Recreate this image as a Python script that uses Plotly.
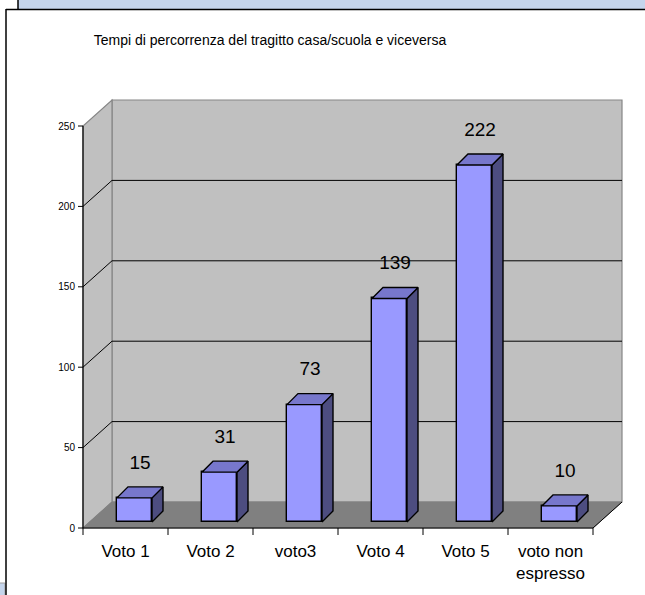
import plotly.graph_objects as go

# ---- data ----
categories = ["Voto 1", "Voto 2", "voto3", "Voto 4", "Voto 5", "voto non<br>espresso"]
values = [15, 31, 73, 139, 222, 10]
y_ticks = [0, 50, 100, 150, 200, 250]
title_text = "Tempi di percorrenza del tragitto casa/scuola e viceversa"

# ---- geometry / style constants (pixels -> data units) ----
W, H = 645, 595
PX_CAT = 85.0          # pixels per category
PX_VAL = 1.608         # pixels per value unit
AX_X = 83              # pixel of x = -0.5
AX_Y = 528             # pixel of y = 0
PL, PR, PT, PB = 76, 640, 80, 540   # plot area pixel box

def dx(px):
    return px / PX_CAT

def dy(px):
    return px / PX_VAL

n = len(categories)
x_left = -0.5
x_right = n - 0.5
y_top = max(y_ticks)
WALL_DX, WALL_DY = dx(29), dy(26)
BAR_OFF_X, BAR_OFF_Y = dx(9), dy(6)
BAR_W = dx(35)
BAR_DX, BAR_DY = dx(11), dy(11)
LABEL_GAP = dy(23)

FONT = "Liberation Sans, Arial, sans-serif"
WALL = "#C0C0C0"
FLOOR = "#808080"
EDGE = "#868686"
FRONT = "#9999FF"
TOP = "#7777CC"
SIDE = "#4D4D80"

fig = go.Figure()
shapes = []

def path_of(xs, ys, close=True):
    p = "M " + " L ".join(f"{x},{y}" for x, y in zip(xs, ys))
    return p + (" Z" if close else "")

def shape_poly(xs, ys, fill, line_color, line_width=1):
    shapes.append(dict(type="path", xref="x", yref="y", path=path_of(xs, ys),
                       fillcolor=fill, line=dict(color=line_color, width=line_width),
                       layer="below"))

def shape_line(xs, ys, color, width=1):
    shapes.append(dict(type="path", xref="x", yref="y", path=path_of(xs, ys, close=False),
                       line=dict(color=color, width=width), layer="below"))

def poly(xs, ys, fill, line_color, line_width=1):
    fig.add_trace(go.Scatter(
        x=list(xs) + [xs[0]], y=list(ys) + [ys[0]], mode="lines", fill="toself",
        fillcolor=fill, line=dict(color=line_color, width=line_width),
        hoverinfo="skip", showlegend=False))

def seg(xs, ys, color, width=1):
    fig.add_trace(go.Scatter(x=xs, y=ys, mode="lines",
                             line=dict(color=color, width=width),
                             hoverinfo="skip", showlegend=False))

# back wall
shape_poly([x_left + WALL_DX, x_right + WALL_DX, x_right + WALL_DX, x_left + WALL_DX],
           [WALL_DY, WALL_DY, y_top + WALL_DY, y_top + WALL_DY], WALL, EDGE, 1.2)
# side wall
shape_poly([x_left, x_left + WALL_DX, x_left + WALL_DX, x_left],
           [0, WALL_DY, y_top + WALL_DY, y_top], WALL, EDGE, 1.2)
# floor
shape_poly([x_left, x_right, x_right + WALL_DX, x_left + WALL_DX],
           [0, 0, WALL_DY, WALL_DY], FLOOR, FLOOR, 1)
# gridlines (side wall diagonal + back wall)
for t in y_ticks[1:-1]:
    shape_line([x_left, x_left + WALL_DX, x_right + WALL_DX],
               [t, t + WALL_DY, t + WALL_DY], "#000000", 1)
# floor right edge
shape_line([x_right, x_right + WALL_DX], [0, WALL_DY], "#000000", 1)

# axis lines
seg([x_left, x_right], [0, 0], "#000000", 1.2)
seg([x_left, x_left], [0, y_top], "#000000", 1.2)
# x ticks at category boundaries
tx, ty = [], []
for i in range(n + 1):
    b = x_left + i
    tx += [b, b, None]
    ty += [0, -dy(7), None]
seg(tx, ty, "#000000", 1)
# y ticks
yx, yy = [], []
for t in y_ticks:
    yx += [x_left - dx(5), x_left, None]
    yy += [t, t, None]
seg(yx, yy, "#000000", 1)

# bars: front faces
base = BAR_OFF_Y
fig.add_trace(go.Bar(
    x=[i + BAR_OFF_X for i in range(n)], y=values, base=[base] * n, width=BAR_W,
    marker=dict(color=FRONT, line=dict(color="#000000", width=1.4)),
    hoverinfo="skip", showlegend=False))

# bars: side and top faces
for i, v in enumerate(values):
    xc = i + BAR_OFF_X
    xl, xr = xc - BAR_W / 2, xc + BAR_W / 2
    top = base + v
    poly([xr, xr, xr + BAR_DX, xr + BAR_DX], [base, top, top + BAR_DY, base + BAR_DY], SIDE, "#000000", 1.4)
    poly([xl, xr, xr + BAR_DX, xl + BAR_DX], [top, top, top + BAR_DY, top + BAR_DY], TOP, "#000000", 1.4)

# value labels
fig.add_trace(go.Scatter(
    x=[i + BAR_OFF_X + BAR_DX / 2 for i in range(n)],
    y=[base + v + BAR_DY + LABEL_GAP for v in values],
    mode="text", text=[str(v) for v in values], textposition="middle center",
    textfont=dict(family=FONT, size=19, color="#000000"),
    hoverinfo="skip", showlegend=False))

# frame shapes (paper coords from pixels)
def pxp(px):
    return (px - PL) / (PR - PL)

def pyp(py):
    return (PB - py) / (PB - PT)

shapes += [
    dict(type="rect", xref="paper", yref="paper", x0=pxp(18), x1=pxp(660), y0=pyp(9), y1=pyp(-10),
         fillcolor="#C5D5EC", line=dict(width=0), layer="below"),
    dict(type="line", xref="paper", yref="paper", x0=pxp(18), x1=pxp(18), y0=pyp(9), y1=pyp(-10),
         line=dict(color="#000000", width=1.5)),
    dict(type="line", xref="paper", yref="paper", x0=pxp(6), x1=pxp(660), y0=pyp(9.5), y1=pyp(9.5),
         line=dict(color="#000000", width=1.5)),
    dict(type="line", xref="paper", yref="paper", x0=pxp(6), x1=pxp(6), y0=pyp(9), y1=pyp(610),
         line=dict(color="#000000", width=1.5)),
    dict(type="rect", xref="paper", yref="paper", x0=pxp(-10), x1=pxp(5), y0=pyp(583), y1=pyp(610),
         fillcolor="#C5D5EC", line=dict(color="#A0A0A0", width=1), layer="below"),
]

fig.update_layout(
    width=W, height=H, autosize=False,
    margin=dict(l=PL, r=W - PR, t=PT, b=H - PB, pad=0),
    paper_bgcolor="#FFFFFF", plot_bgcolor="rgba(0,0,0,0)",
    title=dict(text=title_text, x=270 / W, xref="container", xanchor="center",
               y=1 - 40 / H, yref="container", yanchor="middle",
               font=dict(family=FONT, size=14, color="#000000")),
    xaxis=dict(range=[x_left - dx(AX_X - PL), x_left + dx(PR - AX_X)],
               tickmode="array", tickvals=list(range(n)), ticktext=categories,
               ticks="", showgrid=False, zeroline=False, showline=False, automargin=False,
               ticklabelstandoff=-1,
               tickfont=dict(family=FONT, size=17, color="#000000"), fixedrange=True),
    yaxis=dict(range=[-dy(PB - AX_Y), dy(AX_Y - PT)],
               tickmode="array", tickvals=y_ticks, ticktext=[str(t) for t in y_ticks],
               ticks="", showgrid=False, zeroline=False, showline=False, automargin=False,
               tickfont=dict(family=FONT, size=10, color="#000000"), fixedrange=True),
    shapes=shapes,
    bargap=0,
    hovermode=False,
)

# remove the browser's default 8px page margin so the figure sits at the window's corner
fig.write_html("out.html", config={"displayModeBar": False},
               post_script="document.body.style.margin='0px';")
